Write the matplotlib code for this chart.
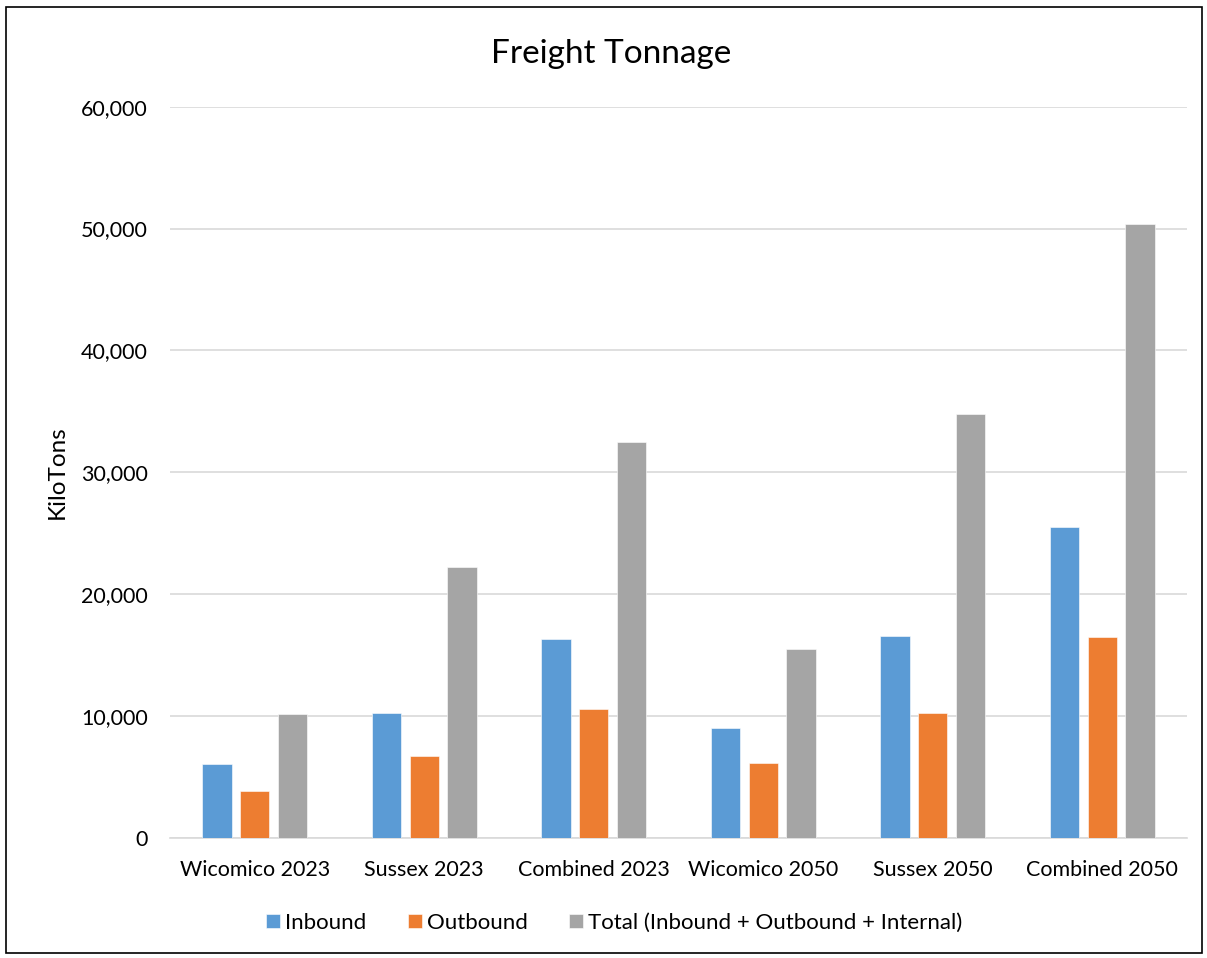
import matplotlib as mpl
mpl.use("Agg")
import matplotlib.pyplot as plt
import numpy as np
from matplotlib.patches import Rectangle
from matplotlib.ticker import FuncFormatter

plt.rcParams["font.family"] = ["Lato", "DejaVu Sans"]

categories = ["Wicomico 2023", "Sussex 2023", "Combined 2023",
              "Wicomico 2050", "Sussex 2050", "Combined 2050"]
inbound = [6100, 10250, 16350, 9000, 16550, 25550]
outbound = [3850, 6700, 10550, 6150, 10250, 16500]
total = [10150, 22200, 32450, 15500, 34800, 50350]
series_names = ["Inbound", "Outbound", "Total (Inbound + Outbound + Internal)"]
colors = ["#5B9BD5", "#ED7D31", "#A5A5A5"]

W, H = 1207, 958
fig = plt.figure(figsize=(W / 100, H / 100), dpi=100)
ax = fig.add_axes([170 / W, 1 - 838 / H, (1187 - 170) / W, (838 - 106.7) / H])

x = np.arange(len(categories))
width = 0.174
step = 0.222
for i, (vals, name, c) in enumerate(zip([inbound, outbound, total], series_names, colors)):
    ax.bar(x + (i - 1) * step, vals, width, color=c, label=name,
           edgecolor="white", linewidth=0.4, zorder=3)

ax.set_xlim(-0.5, len(categories) - 0.5)
ax.set_ylim(0, 60000)
ax.set_yticks(np.arange(0, 60001, 10000))
ax.yaxis.set_major_formatter(FuncFormatter(lambda v, p: f"{int(v):,}"))
ax.set_xticks(x)
ax.set_xticklabels(categories)
ax.grid(axis="y", color="#D9D9D9", linewidth=1.2, zorder=0)
for s in ["top", "right", "left"]:
    ax.spines[s].set_visible(False)
ax.spines["bottom"].set_color("#D9D9D9")
ax.spines["bottom"].set_linewidth(1.2)
ax.tick_params(axis="both", length=0, labelsize=15.5, colors="#000000")
ax.tick_params(axis="y", pad=16)
ax.tick_params(axis="x", pad=16)

fig.text(57 / W, 1 - 472 / H, "KiloTons", fontsize=17.5, rotation=90,
         ha="center", va="center")
fig.text(611 / W, 1 - 54 / H, "Freight Tonnage", fontsize=24, ha="center", va="center")

fig.legend(loc="center", bbox_to_anchor=(614 / W, 1 - 923 / H), ncol=3, frameon=False,
           fontsize=16, handlelength=0.63, handleheight=0.63, handletextpad=0.23,
           columnspacing=1.85)

fig.patches.append(Rectangle((6 / W, 5 / H), (1202 - 6) / W, (951 - 5) / H,
                             transform=fig.transFigure, fill=False,
                             edgecolor="black", linewidth=1.2))

fig.savefig("out.png", dpi=100)
